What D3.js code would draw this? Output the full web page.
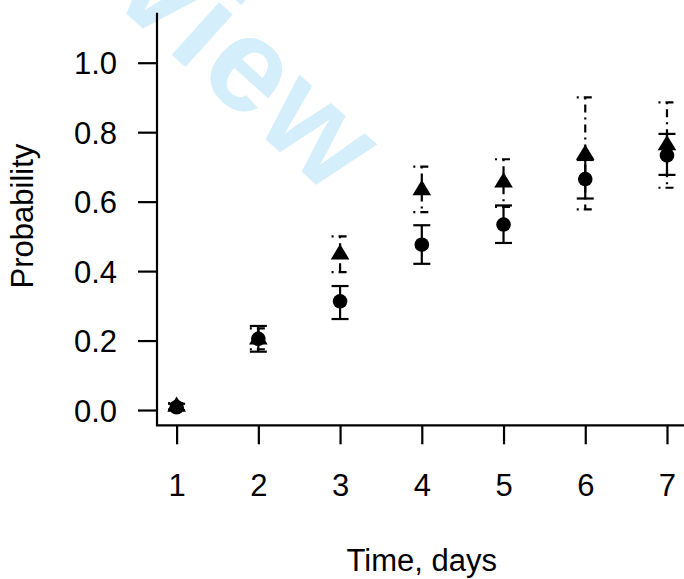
<!DOCTYPE html>
<html>
<head>
<meta charset="utf-8">
<script src="https://cdn.jsdelivr.net/npm/d3@7"></script>
<style>
  html, body { margin: 0; padding: 0; background: #fff; }
  svg { display: block; }
  text { font-family: "Liberation Sans", Arial, Helvetica, sans-serif; }
</style>
</head>
<body>
<svg id="chart" width="684" height="579"></svg>
<script>
// ---- data ----
const days = [1, 2, 3, 4, 5, 6, 7];
const circleMean = [0.008, 0.205, 0.313, 0.476, 0.534, 0.665, 0.733];
const circleLo   = [0.000, 0.168, 0.262, 0.421, 0.481, 0.609, 0.677];
const circleHi   = [0.018, 0.242, 0.357, 0.532, 0.589, 0.720, 0.795];
const triMean    = [0.010, 0.204, 0.449, 0.634, 0.656, 0.736, 0.763];
const triLo      = [0.002, 0.175, 0.397, 0.570, 0.585, 0.578, 0.640];
const triHi      = [0.020, 0.235, 0.500, 0.701, 0.722, 0.900, 0.886];
const yTicks = [0.0, 0.2, 0.4, 0.6, 0.8, 1.0];
const xLabel = "Time, days";
const yLabel = "Probability";
const watermark = "Preview";

// ---- layout ----
const svg = d3.select("#chart");
const x = d3.scaleLinear().domain([0.76, 7.24]).range([157, 686.6]);
const y = d3.scaleLinear().domain([-0.044, 1.144]).range([425.3, 12.7]);
const FS = 31;

// watermark
svg.append("text")
  .attr("transform", "translate(332,199) rotate(42)")
  .attr("text-anchor", "end")
  .attr("font-size", 134)
  .attr("font-weight", "bold")
  .attr("letter-spacing", 3)
  .attr("fill", "#d4effb")
  .text(watermark);

// axes
const yAxis = d3.axisLeft(y).tickValues(yTicks).tickSize(19).tickPadding(21)
  .tickFormat(d3.format(".1f")).tickSizeOuter(0);
const gy = svg.append("g").attr("transform", `translate(${x.range()[0]},0)`).call(yAxis);
gy.select(".domain").remove();
gy.selectAll(".tick line").attr("stroke", "#000").attr("stroke-width", 2.2);
gy.selectAll(".tick text").attr("font-size", FS).attr("fill", "#000").attr("dy", "0.36em");

const xAxis = d3.axisBottom(x).tickValues(days).tickSize(19).tickPadding(30)
  .tickFormat(d3.format("d")).tickSizeOuter(0);
const gx = svg.append("g").attr("transform", `translate(0,${y.range()[0]})`).call(xAxis);
gx.select(".domain").remove();
gx.selectAll(".tick line").attr("stroke", "#000").attr("stroke-width", 2.2);
gx.selectAll(".tick text").attr("font-size", FS).attr("fill", "#000").attr("dy", "0.71em");

// L-shaped box
svg.append("path")
  .attr("d", `M${x.range()[0]},${y.range()[1]} V${y.range()[0]} H${x.range()[1]}`)
  .attr("fill", "none").attr("stroke", "#000").attr("stroke-width", 2.2);

// axis titles
svg.append("text")
  .attr("x", (x.range()[0] + x.range()[1]) / 2).attr("y", 571)
  .attr("text-anchor", "middle").attr("font-size", FS).text(xLabel);
svg.append("text")
  .attr("transform", `translate(33,${(y.range()[0] + y.range()[1]) / 2 - 3}) rotate(-90)`)
  .attr("text-anchor", "middle").attr("font-size", FS).text(yLabel);

// error bars
const capW = 8.5;
function errorBars(lo, hi, dash) {
  const g = svg.append("g").attr("stroke", "#000").attr("stroke-width", 2.2)
    .attr("fill", "none");
  if (dash) g.attr("stroke-dasharray", dash);
  days.forEach((d, i) => {
    const cx = x(d);
    g.append("line").attr("x1", cx).attr("x2", cx).attr("y1", y(hi[i])).attr("y2", y(lo[i]));
    g.append("line").attr("x1", cx - capW).attr("x2", cx + capW).attr("y1", y(hi[i])).attr("y2", y(hi[i]));
    g.append("line").attr("x1", cx - capW).attr("x2", cx + capW).attr("y1", y(lo[i])).attr("y2", y(lo[i]));
  });
}

// circle series
errorBars(circleLo, circleHi, null);
svg.append("g").selectAll("circle").data(days).join("circle")
  .attr("cx", d => x(d)).attr("cy", (d, i) => y(circleMean[i]))
  .attr("r", 7.3).attr("fill", "#000");

// triangle series
errorBars(triLo, triHi, "2,5,8,5");
svg.append("g").selectAll("path.tri").data(days).join("path")
  .attr("class", "tri")
  .attr("d", (d, i) => {
    const cx = x(d), cy = y(triMean[i]);
    return `M${cx},${cy - 10} L${cx + 9.3},${cy + 5.3} L${cx - 9.3},${cy + 5.3} Z`;
  })
  .attr("fill", "#000");
</script>
</body>
</html>
